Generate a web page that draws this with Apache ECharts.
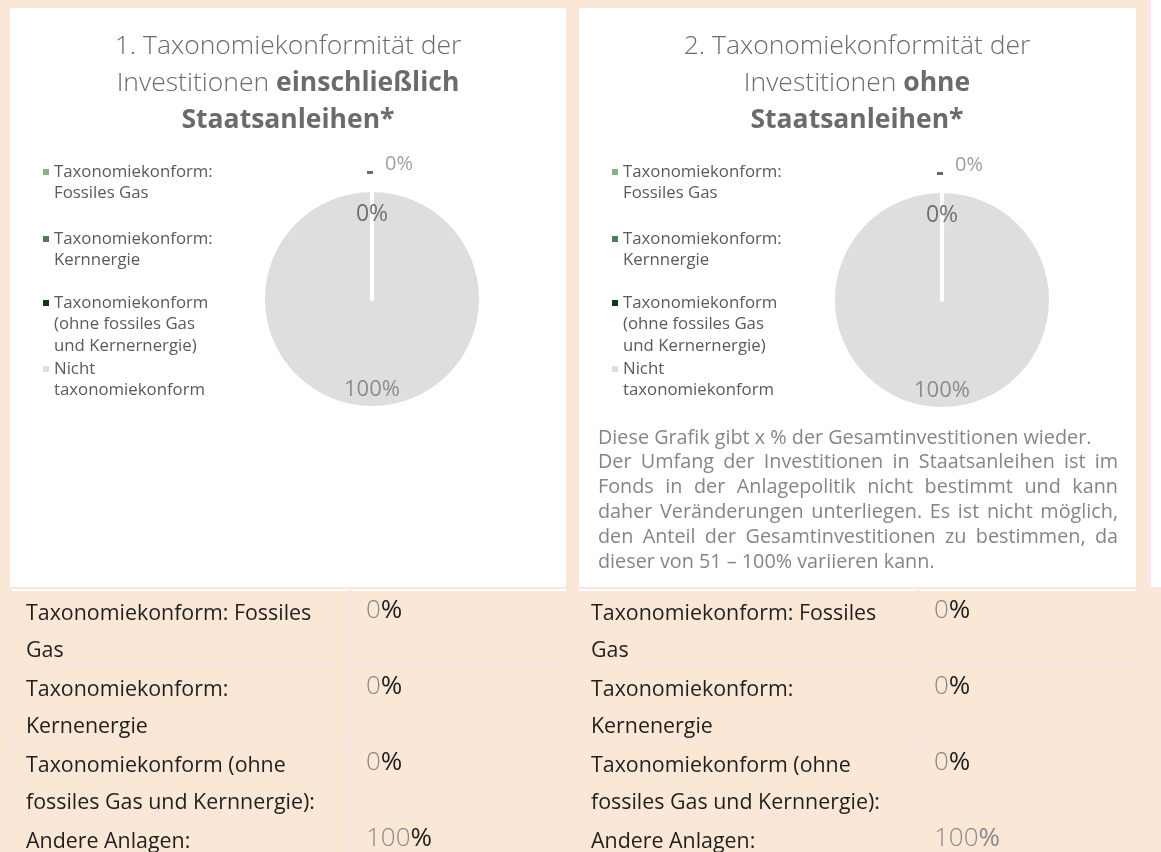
<!DOCTYPE html>
<html>
<head>
<meta charset="utf-8">
<title>Taxonomiekonformität</title>
<script src="https://cdn.jsdelivr.net/npm/echarts@6/dist/echarts.min.js"></script>
<style>
  html, body { margin: 0; padding: 0; background: #fae7d6; }
  #main { width: 1161px; height: 852px; }
</style>
</head>
<body>
<div id="main"></div>
<script>
// Kategorien (Legende der Kreisdiagramme)
var categories = [
    'Taxonomiekonform: Fossiles Gas',
    'Taxonomiekonform: Kernnergie',
    'Taxonomiekonform (ohne fossiles Gas und Kernernergie)',
    'Nicht taxonomiekonform'
];
var legendLines = [
    ['Taxonomiekonform:', 'Fossiles Gas'],
    ['Taxonomiekonform:', 'Kernnergie'],
    ['Taxonomiekonform', '(ohne fossiles Gas', 'und Kernernergie)'],
    ['Nicht', 'taxonomiekonform']
];
var sliceColors = ['#8fae8c', '#4e7d53', '#0d3a10', '#dedede'];

// Werte in %
var valuesInkl = [0, 0, 0, 100];
var valuesOhne = [0, 0, 0, 100];

// Tabelle unter den Diagrammen
var tableLabels = [
    ['Taxonomiekonform: Fossiles', 'Gas'],
    ['Taxonomiekonform:', 'Kernenergie'],
    ['Taxonomiekonform (ohne', 'fossiles Gas und Kernnergie):'],
    ['Andere Anlagen:']
];
var tableInkl = [0, 0, 0, 100];
var tableOhne = [0, 0, 0, 100];

var titleInkl = ['1. Taxonomiekonformität der', 'Investitionen ', 'einschließlich', 'Staatsanleihen*'];
var titleOhne = ['2. Taxonomiekonformität der', 'Investitionen ', 'ohne', 'Staatsanleihen*'];

var footnote = [
    'Diese Grafik gibt x % der Gesamtinvestitionen wieder.',
    'Der Umfang der Investitionen in Staatsanleihen ist im',
    'Fonds in der Anlagepolitik nicht bestimmt und kann',
    'daher Veränderungen unterliegen. Es ist nicht möglich,',
    'den Anteil der Gesamtinvestitionen zu bestimmen, da',
    'dieser von 51 – 100% variieren kann.'
];

var FONT = '"Open Sans", "Noto Sans", sans-serif';
var LH = 21.5;
var chart = echarts.init(document.getElementById('main'));

// unsichtbarer Ring, der nur Beschriftungen traegt
function labelRing(center, values, radius, labelFor) {
    return {
        type: 'pie',
        center: center,
        radius: radius,
        startAngle: 90,
        silent: true,
        animation: false,
        avoidLabelOverlap: false,
        labelLine: {show: false},
        itemStyle: {color: 'transparent', borderWidth: 0},
        data: categories.map(function(name, i) {
            var label = labelFor(i);
            return {name: name, value: values[i], label: label || {show: false}};
        })
    };
}

function buildPies(center, values) {
    var main = {
        type: 'pie',
        center: center,
        radius: 109,
        startAngle: 90,
        minAngle: 0.01,
        silent: true,
        animation: false,
        label: {show: false},
        labelLine: {show: false},
        itemStyle: {borderColor: '#ffffff', borderWidth: 4},
        data: categories.map(function(name, i) {
            return {name: name, value: values[i], itemStyle: {color: sliceColors[i]}};
        })
    };
    // 0% innen oben
    var inner = labelRing(center, values, [72, 92], function(i) {
        if (i !== 2) return null;
        return {show: true, position: 'inside', formatter: '{d}%', fontFamily: FONT, fontSize: 23, color: '#707070'};
    });
    // 100% innen unten
    var bottom = labelRing(center, values, [78, 98], function(i) {
        if (i !== 3) return null;
        return {show: true, position: 'inside', formatter: '{d}%', fontFamily: FONT, fontSize: 22, color: '#8c8c8c'};
    });
    // "- 0%" ausserhalb
    var outer = labelRing(center, values, [126, 138], function(i) {
        if (i !== 0) return null;
        return {
            show: true,
            position: 'inside',
            padding: [0, 0, 0, 36],
            formatter: function(p) {
                return '{dash| }{v|' + p.percent + '%}';
            },
            rich: {
                dash: {width: 6, height: 3, backgroundColor: '#6a6a6a', verticalAlign: 'bottom', fontSize: 2},
                v: {fontFamily: FONT, fontSize: 20, color: '#a0a0a0', padding: [0, 0, 0, 12]}
            }
        };
    });
    return [main, inner, bottom, outer];
}

// Legende: je Eintrag eine eigene Legende; das Symbol ist ein hoher Pfad mit dem
// Quadrat oben, damit es auf Hoehe der ersten Textzeile sitzt
function buildLegends(x) {
    var firstLineY = [172, 239, 303, 369];
    return categories.map(function(name, i) {
        var n = legendLines[i].length;
        var h = (n - 1) * LH + 6;
        return {
            data: [name],
            left: x,
            top: firstLineY[i] - LH / 2,
            orient: 'vertical',
            icon: 'path://M0,0L6,0L6,6L0,6Z M0,' + h + 'L0.01,' + h + 'L0,' + (h - 0.01) + 'Z',
            itemWidth: 6,
            itemHeight: h,
            padding: 0,
            selectedMode: false,
            itemStyle: {borderWidth: 0},
            formatter: function() {
                return legendLines[i].join('\n');
            },
            textStyle: {
                fontFamily: FONT,
                fontSize: 16.8,
                lineHeight: LH,
                color: '#5a5a5a'
            }
        };
    });
}

function titleText(cx, t) {
    return {
        type: 'text',
        z: 10,
        style: {
            x: cx,
            y: 28,
            align: 'center',
            text: '{n|' + t[0] + '}\n{n|' + t[1] + '}{b|' + t[2] + '}\n{b|' + t[3] + '}',
            rich: {
                n: {fontFamily: FONT, fontSize: 26.5, fontWeight: 300, fill: '#6b6b6b', lineHeight: 37},
                b: {fontFamily: FONT, fontSize: 26.5, fontWeight: 'bold', fill: '#6b6b6b', lineHeight: 37}
            }
        }
    };
}

// Blocksatz fuer den Fussnotentext
function buildFootnote(x, right, y0, lineGap) {
    var els = [];
    var ctx = document.createElement('canvas').getContext('2d');
    var font = '19.8px ' + FONT;
    ctx.font = font;
    footnote.forEach(function(line, li) {
        var y = y0 + li * lineGap;
        var justify = li > 0 && li < footnote.length - 1;
        if (!justify) {
            els.push({type: 'text', z: 10, style: {x: x, y: y, text: line, verticalAlign: 'middle', font: font, fill: '#858585'}});
            return;
        }
        var words = line.split(' ');
        var widths = words.map(function(w) { return ctx.measureText(w).width; });
        var total = widths.reduce(function(a, b) { return a + b; }, 0);
        var gap = (right - x - total) / (words.length - 1);
        var cur = x;
        words.forEach(function(w, wi) {
            els.push({type: 'text', z: 10, style: {x: cur, y: y, text: w, verticalAlign: 'middle', font: font, fill: '#858585'}});
            cur += widths[wi] + gap;
        });
    });
    return els;
}

function buildTable(x0, xDiv, xEnd, values, greyPercentLast) {
    var els = [];
    var rowTops = [588, 664, 740, 816];
    var lineColor = '#fde3e3';
    rowTops.forEach(function(top, r) {
        els.push({type: 'rect', z: 1, shape: {x: x0, y: top - 1, width: xEnd - x0, height: 2}, style: {fill: lineColor}});
        tableLabels[r].forEach(function(txt, k) {
            els.push({type: 'text', z: 10, style: {x: x0 + 16, y: top + 26 + k * 37, text: txt, verticalAlign: 'middle',
                font: '21.4px ' + FONT, fill: '#1f1f1f'}});
        });
        var pctColor = (greyPercentLast && r === rowTops.length - 1) ? '#8a8a8a' : '#1f1f1f';
        els.push({type: 'text', z: 10, style: {
            x: xDiv + 16, y: top + 23, verticalAlign: 'middle',
            text: '{g|' + values[r] + '}{p|%}',
            rich: {
                g: {fontFamily: FONT, fontSize: 26, fontWeight: 300, fill: '#8a8a8a'},
                p: {fontFamily: FONT, fontSize: 26, fill: pctColor}
            }
        }});
    });
    els.push({type: 'rect', z: 1, shape: {x: xDiv - 1, y: 588, width: 2, height: 264}, style: {fill: lineColor}});
    els.push({type: 'rect', z: 1, shape: {x: x0, y: 588, width: 2, height: 264}, style: {fill: lineColor}});
    return els;
}

var graphics = [
    {type: 'rect', z: -1, shape: {x: 10, y: 8, width: 556, height: 583}, style: {fill: '#ffffff'}},
    {type: 'rect', z: -1, shape: {x: 579, y: 8, width: 557, height: 583}, style: {fill: '#ffffff'}},
    {type: 'rect', z: -1, shape: {x: 1146, y: 0, width: 5, height: 588}, style: {fill: '#fde6e6'}},
    {type: 'rect', z: -1, shape: {x: 1151, y: 0, width: 10, height: 588}, style: {fill: '#ffffff'}},
    {type: 'rect', z: -1, shape: {x: 1136, y: 587, width: 25, height: 2}, style: {fill: '#fde3e3'}},
    titleText(288, titleInkl),
    titleText(857, titleOhne)
].concat(buildFootnote(598, 1118, 438, 24.8))
 .concat(buildTable(10, 350, 575, tableInkl, false))
 .concat(buildTable(575, 918, 1146, tableOhne, true));

var option = {
    backgroundColor: '#fae7d6',
    animation: false,
    legend: buildLegends(43).concat(buildLegends(612)),
    graphic: {elements: graphics},
    series: buildPies([372, 299], valuesInkl).concat(buildPies([942, 300], valuesOhne))
};
chart.setOption(option);
</script>
</body>
</html>
